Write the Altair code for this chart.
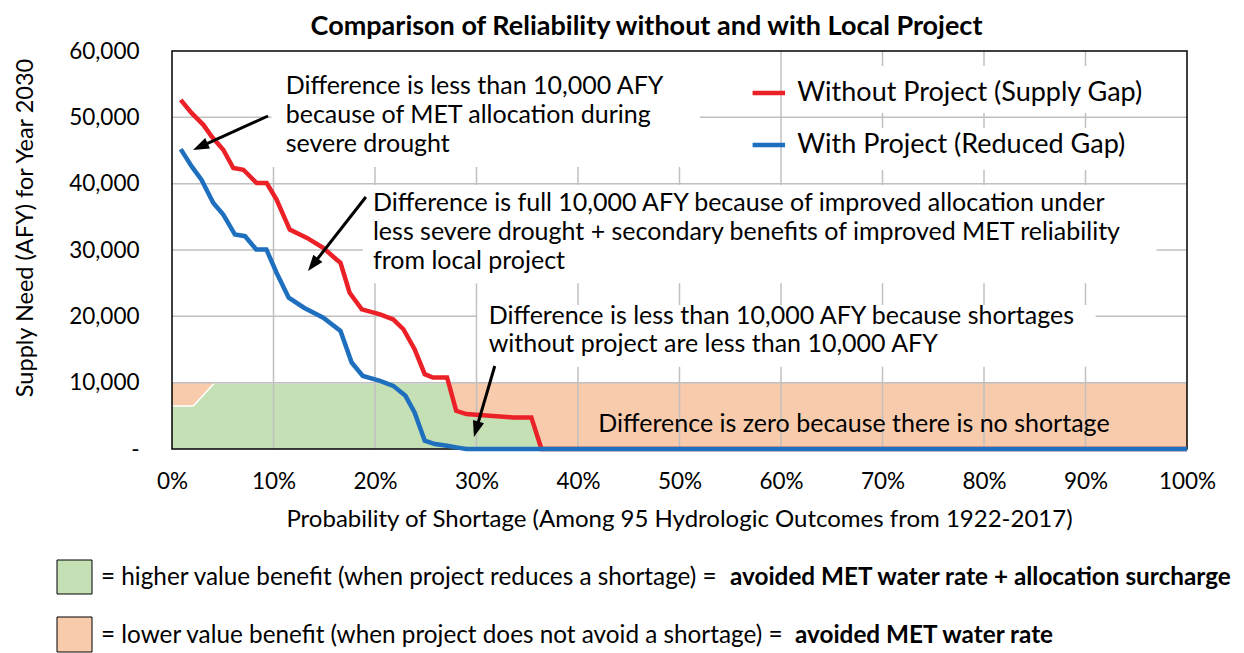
import math
import altair as alt
import pandas as pd

# ---------------- data ----------------
red_p = [0.86, 1.94, 3.09, 3.91, 5.05, 6.04, 7.03, 8.34, 9.33, 10.3, 11.6, 13.3, 14.9, 16.2,
         16.6, 17.5, 18.7, 20.5, 21.8, 22.8, 23.9, 24.9, 25.7, 27.1, 28.0, 29.0, 31.3, 33.6,
         35.4, 36.4, 100]
red_v = [52630, 50630, 48870, 47110, 45110, 42360, 42100, 40100, 40100, 37590, 33080, 31830,
         30330, 28570, 28070, 23560, 21050, 20300, 19550, 18050, 15040, 11280, 10780, 10780,
         5760, 5260, 5010, 4760, 4760, 0, 0]

blue_p = [0.86, 1.94, 2.9, 4.07, 5.05, 6.2, 7.2, 8.3, 9.3, 10.3, 11.5, 13.0, 14.9, 16.6, 17.7,
          18.8, 20.5, 21.8, 23.0, 23.9, 24.9, 25.9, 27.1, 28.0, 29.0, 100]
blue_v = [45210, 42600, 40600, 37100, 35340, 32330, 32080, 30080, 30080, 26570, 22810, 21300,
          19800, 17790, 13030, 11020, 10280, 9520, 8020, 5510, 1250, 750, 500, 250, 0, 0]

green_p = [0, 2.1, 4.2, 27.3, 28.0, 29.0, 31.3, 33.6, 35.4, 36.4]
green_v = [6500, 6500, 10000, 10000, 5760, 5260, 5010, 4760, 4760, 0]

orange_p = [0, 100]
orange_v = [10000, 10000]

x_ticks = [0, 10, 20, 30, 40, 50, 60, 70, 80, 90, 100]
y_ticks = [0, 10000, 20000, 30000, 40000, 50000, 60000]

series_names = ["Without Project (Supply Gap)", "With Project (Reduced Gap)"]

title_text = "Comparison of Reliability without and with Local Project"
x_title = "Probability of Shortage (Among 95 Hydrologic Outcomes from 1922-2017)"
y_title = "Supply Need (AFY) for Year 2030"

notes_txt = [
    "Difference is less than 10,000 AFY",
    "because of MET allocation during",
    "severe drought",
    "Difference is full 10,000 AFY because of improved allocation under",
    "less severe drought + secondary benefits of improved MET reliability",
    "from local project",
    "Difference is less than 10,000 AFY because shortages",
    "without project are less than 10,000 AFY",
    "Difference is zero because there is no shortage",
]
notes_p = [11.2, 11.2, 11.2, 19.8, 19.8, 19.8, 31.2, 31.2, 42.0]
notes_v = [54730, 50350, 45980, 37090, 32710, 28340, 20050, 15830, 3770]

# white text boxes behind annotations (data units)
box_p1 = [9.8, 18.8, 30.1, 60.9, 60.9]
box_p2 = [52.0, 97.0, 91.0, 97.5, 97.5]
box_v1 = [42500, 25000, 12400, 50650, 42060]
box_v2 = [60000, 39800, 21700, 57740, 48390]

# arrows: tail -> tip (data units)
arr_tail_p = [9.46, 19.1, 31.8]
arr_tail_v = [50200, 37990, 12510]
arr_tip_p = [2.07, 13.4, 29.75]
arr_tip_v = [45080, 26840, 1810]

leg_p1, leg_p2, leg_tp = 57.2, 60.4, 61.6
leg_v = [53670, 45830]

bottom_normal = ["= higher value benefit (when project reduces a shortage) = ",
                 "= lower value benefit (when project does not avoid a shortage) = "]
bottom_bold = ["avoided MET water rate + allocation surcharge", "avoided MET water rate"]

# ---------------- styling ----------------
W, H = 1015, 398
FONT = "Lato"
RED = "#ec2027"
BLUE = "#1f6fbf"
GREEN = "#c5e0b4"
ORANGE = "#f8cbad"
GRID = "#c0c0c0"
ANN = 25

xs = alt.Scale(domain=[0, 100], nice=False, zero=False)
ys = alt.Scale(domain=[0, 60000], nice=False)

def df(**kw):
    return pd.DataFrame(kw)

# area layers
orange = alt.Chart(df(p=orange_p, v=orange_v)).mark_area(color=ORANGE, opacity=1).encode(
    x=alt.X("p:Q", scale=xs, axis=alt.Axis(values=x_ticks, labelExpr="datum.value + '%'",
                                           grid=False, ticks=False, domain=False, title=None,
                                           labelFontSize=22.5, labelFont=FONT, labelColor="black",
                                           labelPadding=21, labelFlush=False)),
    y=alt.Y("v:Q", scale=ys, axis=alt.Axis(values=y_ticks,
                                           labelExpr="datum.value == 0 ? '-\u00a0\u00a0\u00a0\u00a0\u00a0' : format(datum.value, ',')",
                                           grid=False, ticks=False, domain=False, title=None,
                                           labelFontSize=22.5, labelFont=FONT, labelColor="black",
                                           labelPadding=33, labelFlush=False)),
)
green = alt.Chart(df(p=green_p, v=green_v)).mark_area(color=GREEN, opacity=1).encode(
    x=alt.X("p:Q", scale=xs), y=alt.Y("v:Q", scale=ys))
green_edge = alt.Chart(df(p=green_p[:4], v=green_v[:4])).mark_line(color="white", strokeWidth=1.5).encode(
    x=alt.X("p:Q", scale=xs), y=alt.Y("v:Q", scale=ys))

# gridlines
vgrid = alt.Chart(df(p=x_ticks[1:-1])).mark_rule(color=GRID, strokeWidth=1.5).encode(
    x=alt.X("p:Q", scale=xs), y=alt.value(0), y2=alt.value(H))
hgrid = alt.Chart(df(v=y_ticks[1:-1])).mark_rule(color=GRID, strokeWidth=1.5).encode(
    y=alt.Y("v:Q", scale=ys), x=alt.value(0), x2=alt.value(W))

boxes = alt.Chart(df(p1=box_p1, p2=box_p2, v1=box_v1, v2=box_v2)).mark_rect(fill="white").encode(
    x=alt.X("p1:Q", scale=xs), x2="p2:Q", y=alt.Y("v1:Q", scale=ys), y2="v2:Q")

border = alt.Chart(df(a=[0])).mark_rect(fill=None, stroke="black", strokeWidth=1.5).encode(
    x=alt.value(0), x2=alt.value(W), y=alt.value(0), y2=alt.value(H))

red_line = alt.Chart(df(p=red_p, v=red_v)).mark_line(color=RED, strokeWidth=4.5).encode(
    x=alt.X("p:Q", scale=xs), y=alt.Y("v:Q", scale=ys))
blue_line = alt.Chart(df(p=blue_p, v=blue_v)).mark_line(color=BLUE, strokeWidth=4.5).encode(
    x=alt.X("p:Q", scale=xs), y=alt.Y("v:Q", scale=ys))

# arrows
kx, ky = W / 100.0, H / 60000.0
HEAD = 16.0
rows = []
for tp, tv, hp, hv in zip(arr_tail_p, arr_tail_v, arr_tip_p, arr_tip_v):
    dx = (hp - tp) * kx
    dy = -(hv - tv) * ky  # screen down positive
    L = math.hypot(dx, dy)
    ux, uy = dx / L, dy / L
    ang = math.degrees(math.atan2(dx, -dy)) % 360
    ep = hp - ux * HEAD * 0.7 / kx
    ev = hv + uy * HEAD * 0.7 / ky
    rows.append(dict(tp=tp, tv=tv, ep=ep, ev=ev, hp=hp, hv=hv, ang=ang))
arr_df = pd.DataFrame(rows)
shafts = alt.Chart(arr_df).mark_rule(color="black", strokeWidth=3).encode(
    x=alt.X("tp:Q", scale=xs), x2="ep:Q", y=alt.Y("tv:Q", scale=ys), y2="ev:Q")
heads = alt.Chart(arr_df).mark_point(shape="M0,0L-0.36,1L0.36,1Z", filled=True, color="black",
                                     opacity=1, size=(2 * HEAD) ** 2, strokeWidth=0).encode(
    x=alt.X("hp:Q", scale=xs), y=alt.Y("hv:Q", scale=ys), angle=alt.Angle("ang:Q", scale=None))

notes = alt.Chart(df(p=notes_p, v=notes_v, t=notes_txt)).mark_text(
    align="left", baseline="middle", font=FONT, fontSize=ANN, color="black").encode(
    x=alt.X("p:Q", scale=xs), y=alt.Y("v:Q", scale=ys), text="t:N")

# in-plot legend
leg_lines = alt.Chart(df(v=leg_v, c=[RED, BLUE])).mark_rule(strokeWidth=4.5).encode(
    x=alt.value(leg_p1 * kx), x2=alt.value(leg_p2 * kx), y=alt.Y("v:Q", scale=ys),
    color=alt.Color("c:N", scale=None))
leg_text = alt.Chart(df(v=leg_v, t=series_names)).mark_text(
    align="left", baseline="middle", font=FONT, fontSize=27, color="black").encode(
    x=alt.value(leg_tp * kx), y=alt.Y("v:Q", scale=ys), text="t:N")

# titles
title = alt.Chart(df(t=[title_text])).mark_text(
    align="center", baseline="middle", font=FONT, fontSize=27, fontWeight="bold", color="black").encode(
    x=alt.value(474.5), y=alt.value(-24), text="t:N")
xtitle = alt.Chart(df(t=[x_title])).mark_text(
    align="center", baseline="middle", font=FONT, fontSize=24, color="black").encode(
    x=alt.value(W / 2), y=alt.value(469), text="t:N")
ytitle = alt.Chart(df(t=[y_title])).mark_text(
    align="center", baseline="middle", font=FONT, fontSize=23.5, color="black", angle=270).encode(
    x=alt.value(-146), y=alt.value(177), text="t:N")

# bottom legend (pixel positions relative to plot origin)
sw = alt.Chart(df(x1=[-115, -115], x2=[-80, -80], y1=[509, 566], y2=[543, 601], c=[GREEN, ORANGE])).mark_rect(
    stroke="black", strokeWidth=1).encode(
    x=alt.X("x1:Q", scale=None), x2="x2:Q", y=alt.Y("y1:Q", scale=None), y2="y2:Q",
    fill=alt.Fill("c:N", scale=None))
bn = alt.Chart(df(x=[-71, -71], y=[527, 585], t=bottom_normal)).mark_text(
    align="left", baseline="middle", font=FONT, fontSize=24.3, color="black").encode(
    x=alt.X("x:Q", scale=None), y=alt.Y("y:Q", scale=None), text="t:N")
bb = alt.Chart(df(x=[558, 623], y=[527, 585], t=bottom_bold)).mark_text(
    align="left", baseline="middle", font=FONT, fontSize=24.3, fontWeight="bold", color="black").encode(
    x=alt.X("x:Q", scale=None), y=alt.Y("y:Q", scale=None), text="t:N")

chart = alt.layer(
    orange, green, green_edge, vgrid, hgrid, boxes, border, red_line, blue_line,
    shafts, heads, notes, leg_lines, leg_text, title, xtitle, ytitle, sw, bn, bb
).properties(
    width=W, height=H,
    autosize=alt.AutoSizeParams(type="none"),
    padding={"left": 164, "top": 43, "right": 45, "bottom": 204},
).configure_view(stroke=None)

chart.save("out.html", embed_options={"renderer": "svg", "actions": False})
